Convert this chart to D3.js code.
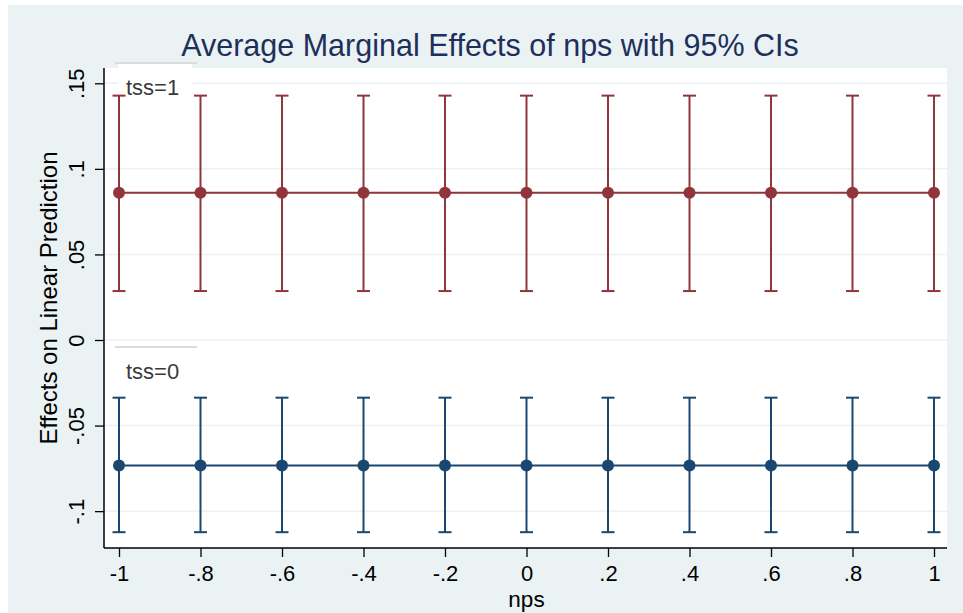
<!DOCTYPE html>
<html>
<head>
<meta charset="utf-8">
<script src="https://cdn.jsdelivr.net/npm/d3@7"></script>
<style>
  body { margin: 0; background: #ffffff; }
  text { font-family: "Liberation Sans", Arial, Helvetica, sans-serif; }
</style>
</head>
<body>
<div id="chart"></div>
<script>
// values
var npsValues = [-1, -0.8, -0.6, -0.4, -0.2, 0, 0.2, 0.4, 0.6, 0.8, 1];
var xTickLabels = ["-1", "-.8", "-.6", "-.4", "-.2", "0", ".2", ".4", ".6", ".8", "1"];
var yTicks = [-0.1, -0.05, 0, 0.05, 0.1, 0.15];
var yTickLabels = ["-.1", "-.05", "0", ".05", ".1", ".15"];

var groups = ["tss=1", "tss=0"];
var effectTss1 = [0.086, 0.086, 0.086, 0.086, 0.086, 0.086, 0.086, 0.086, 0.086, 0.086, 0.086];
var lowerTss1  = [0.0286, 0.0286, 0.0286, 0.0286, 0.0286, 0.0286, 0.0286, 0.0286, 0.0286, 0.0286, 0.0286];
var upperTss1  = [0.1428, 0.1428, 0.1428, 0.1428, 0.1428, 0.1428, 0.1428, 0.1428, 0.1428, 0.1428, 0.1428];
var effectTss0 = [-0.0733, -0.0733, -0.0733, -0.0733, -0.0733, -0.0733, -0.0733, -0.0733, -0.0733, -0.0733, -0.0733];
var lowerTss0  = [-0.1123, -0.1123, -0.1123, -0.1123, -0.1123, -0.1123, -0.1123, -0.1123, -0.1123, -0.1123, -0.1123];
var upperTss0  = [-0.0337, -0.0337, -0.0337, -0.0337, -0.0337, -0.0337, -0.0337, -0.0337, -0.0337, -0.0337, -0.0337];

var width = 963, height = 613;
var plot = { left: 104, top: 68, right: 947, bottom: 548 };

var svg = d3.select("#chart").append("svg")
    .attr("width", width)
    .attr("height", height);

// outer graph region
svg.append("rect")
    .attr("x", 8).attr("y", 5)
    .attr("width", width - 8).attr("height", height - 5)
    .attr("fill", "#eaf2f3");

// plot region
svg.append("rect")
    .attr("x", plot.left).attr("y", plot.top)
    .attr("width", plot.right - plot.left).attr("height", plot.bottom - plot.top)
    .attr("fill", "#ffffff");

var x = d3.scaleLinear().domain([-1, 1]).range([119, 934]);
var y = d3.scaleLinear().domain([0, 0.15]).range([340, 83.3]);

// grid lines
svg.append("g").selectAll("line")
    .data(yTicks)
    .enter()
    .append("line")
    .attr("x1", plot.left + 1).attr("x2", plot.right)
    .attr("y1", function (d) { return y(d); })
    .attr("y2", function (d) { return y(d); })
    .attr("stroke", "#eaf2f3")
    .attr("stroke-width", 1.5);

// axes
var xAxis = d3.axisBottom(x)
    .tickValues(npsValues)
    .tickSize(9)
    .tickPadding(8)
    .tickFormat(function (d, i) { return xTickLabels[i]; });
var xG = svg.append("g")
    .attr("transform", "translate(0," + plot.bottom + ")")
    .call(xAxis);
xG.select(".domain").attr("d", "M" + plot.left + ",0H" + plot.right).attr("stroke", "#000").attr("stroke-width", 1.5);
xG.selectAll(".tick line").attr("stroke", "#000").attr("stroke-width", 1.3);
xG.selectAll(".tick text")
    .attr("font-size", 22)
    .attr("fill", "#000")
    .attr("font-family", "Liberation Sans, Arial, sans-serif");

var yAxis = d3.axisLeft(y)
    .tickValues(yTicks)
    .tickSize(9)
    .tickFormat(function (d, i) { return yTickLabels[i]; });
var yG = svg.append("g")
    .attr("transform", "translate(" + plot.left + ",0)")
    .call(yAxis);
yG.select(".domain").attr("d", "M0," + plot.top + "V" + plot.bottom).attr("stroke", "#000").attr("stroke-width", 1.5);
yG.selectAll(".tick line").attr("stroke", "#000").attr("stroke-width", 1.3);
yG.selectAll(".tick text")
    .attr("font-size", 22)
    .attr("fill", "#000")
    .attr("font-family", "Liberation Sans, Arial, sans-serif")
    .attr("text-anchor", "middle")
    .attr("x", 0)
    .attr("dy", 0)
    .attr("transform", "translate(-20,0) rotate(-90)");

// axis titles
svg.append("text")
    .attr("x", x(0)).attr("y", 607)
    .attr("text-anchor", "middle")
    .attr("font-size", 22.5)
    .text("nps");

svg.append("text")
    .attr("transform", "translate(57," + 298 + ") rotate(-90)")
    .attr("text-anchor", "middle")
    .attr("font-size", 24)
    .text("Effects on Linear Prediction");

// title
svg.append("text")
    .attr("x", 490).attr("y", 56)
    .attr("text-anchor", "middle")
    .attr("font-size", 30.5)
    .attr("fill", "#1e2f5b")
    .text("Average Marginal Effects of nps with 95% CIs");

// series
var series = [
    { name: groups[0], effect: effectTss1, lower: lowerTss1, upper: upperTss1, color: "#90353b", labelTop: 63 },
    { name: groups[1], effect: effectTss0, lower: lowerTss0, upper: upperTss0, color: "#1a476f", labelTop: 347 }
];

var line = d3.line()
    .x(function (d, i) { return x(npsValues[i]); })
    .y(function (d) { return y(d); });

series.forEach(function (s) {
    var g = svg.append("g");

    // label box
    var ly = s.labelTop;
    g.append("rect")
        .attr("x", 118).attr("y", ly)
        .attr("width", 74).attr("height", 36)
        .attr("fill", "#ffffff");
    g.append("line")
        .attr("x1", 115).attr("x2", 197)
        .attr("y1", ly).attr("y2", ly)
        .attr("stroke", "#dcdcdc")
        .attr("stroke-width", 2);
    g.append("text")
        .attr("x", 126).attr("y", ly + 32)
        .attr("font-size", 22)
        .attr("fill", "#3a3a3a")
        .text(s.name);

    var caps = g.selectAll(".ci")
        .data(npsValues)
        .enter()
        .append("g")
        .attr("class", "ci");
    caps.append("line")
        .attr("x1", function (d) { return x(d); })
        .attr("x2", function (d) { return x(d); })
        .attr("y1", function (d, i) { return y(s.lower[i]); })
        .attr("y2", function (d, i) { return y(s.upper[i]); })
        .attr("stroke", s.color).attr("stroke-width", 2);
    caps.append("line")
        .attr("x1", function (d) { return x(d) - 6.5; })
        .attr("x2", function (d) { return x(d) + 6.5; })
        .attr("y1", function (d, i) { return y(s.upper[i]); })
        .attr("y2", function (d, i) { return y(s.upper[i]); })
        .attr("stroke", s.color).attr("stroke-width", 2);
    caps.append("line")
        .attr("x1", function (d) { return x(d) - 6.5; })
        .attr("x2", function (d) { return x(d) + 6.5; })
        .attr("y1", function (d, i) { return y(s.lower[i]); })
        .attr("y2", function (d, i) { return y(s.lower[i]); })
        .attr("stroke", s.color).attr("stroke-width", 2);

    g.append("path")
        .datum(s.effect)
        .attr("d", line)
        .attr("fill", "none")
        .attr("stroke", s.color)
        .attr("stroke-width", 2);

    g.selectAll("circle")
        .data(s.effect)
        .enter()
        .append("circle")
        .attr("cx", function (d, i) { return x(npsValues[i]); })
        .attr("cy", function (d) { return y(d); })
        .attr("r", 6)
        .attr("fill", s.color);
});
</script>
</body>
</html>
